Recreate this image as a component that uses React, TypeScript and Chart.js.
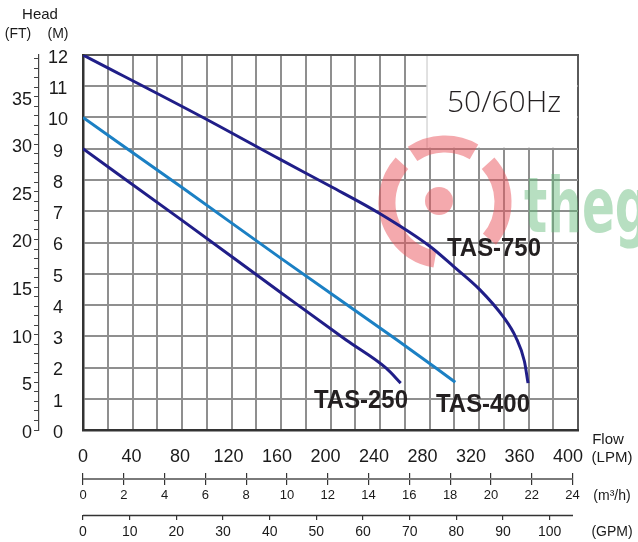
import React, { useEffect, useRef } from "react";
import { Chart, registerables } from "chart.js";

Chart.register(...registerables);

// ---- data (flow in LPM, head in metres) ----
const flow750 = [0, 99, 163, 204, 245, 286, 306, 327, 347, 357, 364, 367];
const head750 = [12, 10, 8.65, 7.8, 6.92, 5.88, 5.22, 4.5, 3.6, 2.96, 2.2, 1.5];
const flow400 = [0, 82, 163, 259, 307];
const head400 = [10, 7.75, 5.5, 2.88, 1.53];
const flow250 = [0, 82, 163, 217, 250, 262];
const head250 = [9, 6.7, 4.4, 2.88, 1.98, 1.5];
const seriesNames = ["TAS-750", "TAS-400", "TAS-250"];

// ---- axes ----
const lpmTicks = [0, 40, 80, 120, 160, 200, 240, 280, 320, 360, 400];
const m3Ticks = [0, 2, 4, 6, 8, 10, 12, 14, 16, 18, 20, 22, 24];
const gpmTicks = [0, 10, 20, 30, 40, 50, 60, 70, 80, 90, 100];
const mTicks = [0, 1, 2, 3, 4, 5, 6, 7, 8, 9, 10, 11, 12];
const ftLabels = [0, 5, 10, 15, 20, 25, 30, 35];
const ftMinorTicks = Array.from({ length: 40 }, (_, i) => i);
const gridCols = Array.from({ length: 21 }, (_, i) => i);

const LPM_MAX = 408.2;
const M3_MAX = 24.27;
const GPM_MAX = 106.07;
const M_MAX = 12;
const FT_MAX = 12 / 0.3048;

const NAVY = "#201e88";
const BLUE = "#1b80c4";
const GRID = "#8f8f8f";
const TEXT = "#1a1a1a";
const FONT = '"Liberation Sans", Arial, Helvetica, sans-serif';

export default function App() {
  const ref = useRef<HTMLCanvasElement>(null);

  useEffect(() => {
    document.body.style.margin = "0";
    const canvas = ref.current!;
    Chart.defaults.font.family = FONT;
    Chart.defaults.color = TEXT;

    const mk = (xs: number[], ys: number[]) => xs.map((x, i) => ({ x, y: ys[i] }));
    const setTicks = (arr: number[]) => (s: any) => {
      s.ticks = arr.map((v) => ({ value: v }));
    };

    const text = (
      ctx: CanvasRenderingContext2D,
      s: string,
      x: number,
      y: number,
      font: string,
      color = TEXT,
      sx = 1
    ) => {
      ctx.save();
      ctx.translate(x, y);
      ctx.scale(sx, 1);
      ctx.font = font;
      ctx.fillStyle = color;
      ctx.textAlign = "center";
      ctx.textBaseline = "middle";
      ctx.fillText(s, 0, 0);
      ctx.restore();
    };

    const overlay = {
      id: "overlay",
      beforeDatasetsDraw(chart: any) {
        const ctx: CanvasRenderingContext2D = chart.ctx;
        const xg = chart.scales.xg;
        const y = chart.scales.y;
        const area = chart.chartArea;
        // white 50/60Hz box
        const bx = xg.getPixelForValue(13.88);
        const by = y.getPixelForValue(9);
        ctx.save();
        ctx.fillStyle = "#ffffff";
        ctx.fillRect(bx, area.top + 1, area.right - 1 - bx, by - 1 - (area.top + 1));
        ctx.strokeStyle = "#c4c4c4";
        ctx.lineWidth = 1;
        ctx.beginPath();
        ctx.moveTo(bx + 0.5, area.top + 1);
        ctx.lineTo(bx + 0.5, by - 1);
        ctx.stroke();
        ctx.restore();

        // watermark
        ctx.save();
        const cx = 445, cy = 202, r = 58;
        ctx.strokeStyle = "rgba(234, 84, 92, 0.5)";
        ctx.lineWidth = 17;
        const segs = [
          [100, 222],
          [236, 300],
          [318, 400],
        ];
        segs.forEach(([a, b]) => {
          ctx.beginPath();
          ctx.arc(cx, cy, r, (a * Math.PI) / 180, (b * Math.PI) / 180);
          ctx.stroke();
        });
        ctx.fillStyle = "rgba(234, 84, 92, 0.5)";
        ctx.beginPath();
        ctx.arc(439, 201, 14, 0, Math.PI * 2);
        ctx.fill();
        ctx.translate(524, 232);
        ctx.scale(0.64, 1);
        ctx.font = 'bold 76px "DejaVu Sans", sans-serif';
        ctx.fillStyle = "rgba(96, 184, 118, 0.45)";
        ctx.textAlign = "left";
        ctx.textBaseline = "alphabetic";
        ctx.fillText("theg", 0, 0);
        ctx.restore();
      },
      afterDraw(chart: any) {
        const ctx: CanvasRenderingContext2D = chart.ctx;
        // m3/h axis line
        const s3 = chart.scales.xm3;
        const y3 = s3.top + 6;
        ctx.save();
        ctx.strokeStyle = "#7a7a7a";
        ctx.lineWidth = 2;
        ctx.beginPath();
        ctx.moveTo(s3.getPixelForValue(0), y3);
        ctx.lineTo(s3.getPixelForValue(24), y3);
        ctx.stroke();
        // GPM axis line
        const sg = chart.scales.xgpm;
        ctx.strokeStyle = "#333333";
        ctx.lineWidth = 1.5;
        ctx.beginPath();
        ctx.moveTo(sg.getPixelForValue(0), sg.top + 0.5);
        ctx.lineTo(sg.getPixelForValue(105), sg.top + 0.5);
        ctx.stroke();
        ctx.restore();

        const f = (px: number, w = "normal") => `${w} ${px}px ${FONT}`;
        text(ctx, "Head", 40, 15, f(15));
        text(ctx, "(FT)", 18, 34, f(14));
        text(ctx, "(M)", 58, 34, f(14));
        text(ctx, "Flow", 608, 440, f(15));
        text(ctx, "(LPM)", 612, 458, f(15));
        text(ctx, "(m³/h)", 612, 496, f(14));
        text(ctx, "(GPM)", 612, 532, f(14));
        text(ctx, "50/60Hz", 504, 103, `300 30px "Open Sans", ${FONT}`, "#231f20");
        const lab = `bold 26px ${FONT}`;
        text(ctx, seriesNames[0], 494, 249, lab, "#231f20", 0.92);
        text(ctx, seriesNames[2], 361, 401, lab, "#231f20", 0.92);
        text(ctx, seriesNames[1], 483, 405, lab, "#231f20", 0.92);
      },
    };

    const lineDs = (label: string, xs: number[], ys: number[], color: string) => ({
      label,
      data: mk(xs, ys),
      borderColor: color,
      backgroundColor: color,
      borderWidth: 3,
      pointRadius: 0,
      fill: false,
      cubicInterpolationMode: "monotone" as const,
      xAxisID: "x",
      yAxisID: "y",
    });

    const chart = new Chart(canvas, {
      type: "line",
      data: {
        datasets: [
          lineDs(seriesNames[0], flow750, head750, NAVY),
          lineDs(seriesNames[1], flow400, head400, BLUE),
          lineDs(seriesNames[2], flow250, head250, NAVY),
        ],
      },
      options: {
        responsive: false,
        maintainAspectRatio: false,
        animation: false,
        layout: { padding: { top: 55, right: 60, left: 0, bottom: 0 } },
        plugins: { legend: { display: false }, tooltip: { enabled: false } },
        scales: {
          xg: {
            type: "linear",
            position: "top",
            min: 0,
            max: 20,
            afterBuildTicks: setTicks(gridCols),
            ticks: { display: false },
            grid: {
              color: (c: any) => (c.tick && c.tick.value === 0 ? "#333333" : c.tick && c.tick.value === 20 ? "#5a5a5a" : GRID),
              lineWidth: 2,
              drawTicks: false,
            },
            border: { display: true, color: "#555555", width: 2 },
            afterFit: (s: any) => {
              s.height = 0;
            },
          },
          x: {
            type: "linear",
            position: "bottom",
            weight: 0,
            min: 0,
            max: LPM_MAX,
            afterBuildTicks: setTicks(lpmTicks),
            ticks: { font: { size: 18 }, padding: 16, maxRotation: 0, autoSkip: false, color: TEXT },
            grid: { drawOnChartArea: false, drawTicks: false },
            border: { display: true, color: "#333333", width: 2.5 },
            afterFit: (s: any) => {
              s.height = 43;
            },
          },
          xm3: {
            type: "linear",
            position: "bottom",
            weight: 1,
            min: 0,
            max: M3_MAX,
            afterBuildTicks: setTicks(m3Ticks),
            ticks: { font: { size: 13 }, padding: 3, maxRotation: 0, autoSkip: false, color: TEXT },
            grid: { drawOnChartArea: false, drawTicks: true, tickLength: 12, color: "#333333", lineWidth: 1.2 },
            border: { display: false },
            afterFit: (s: any) => {
              s.height = 42;
            },
          },
          xgpm: {
            type: "linear",
            position: "bottom",
            weight: 2,
            min: 0,
            max: GPM_MAX,
            afterBuildTicks: setTicks(gpmTicks),
            ticks: { font: { size: 14 }, padding: 4, maxRotation: 0, autoSkip: false, color: TEXT },
            grid: { drawOnChartArea: false, drawTicks: true, tickLength: 5, color: "#333333", lineWidth: 1.2 },
            border: { display: false },
            afterFit: (s: any) => {
              s.height = 27;
            },
          },
          y: {
            type: "linear",
            position: "left",
            weight: 0,
            min: 0,
            max: M_MAX,
            afterBuildTicks: setTicks(mTicks),
            ticks: { font: { size: 18 }, padding: 15, crossAlign: "center", labelOffset: 3, autoSkip: false, color: TEXT },
            grid: {
              color: (c: any) => (c.tick && c.tick.value === 0 ? "#333333" : c.tick && c.tick.value === 12 ? "#555555" : GRID),
              lineWidth: 2,
              drawTicks: false,
            },
            border: { display: true, color: "#333333", width: 2.5 },
            afterFit: (s: any) => {
              s.width = 44;
            },
          },
          yft: {
            type: "linear",
            position: "left",
            weight: 1,
            min: 0,
            max: FT_MAX,
            afterBuildTicks: setTicks(ftMinorTicks),
            ticks: {
              font: { size: 18 },
              padding: 2,
              labelOffset: 3,
              autoSkip: false,
              color: TEXT,
              callback: (v: any) => (ftLabels.includes(Number(v)) ? String(v) : ""),
            },
            grid: { drawOnChartArea: false, drawTicks: true, tickLength: 5, color: "#444444", lineWidth: 1 },
            border: { display: true, color: "#444444", width: 1.2 },
            afterFit: (s: any) => {
              s.width = 39;
            },
          },
        },
      } as any,
      plugins: [overlay],
    });

    return () => chart.destroy();
  }, []);

  return <canvas ref={ref} width={638} height={542} style={{ display: "block" }} />;
}
